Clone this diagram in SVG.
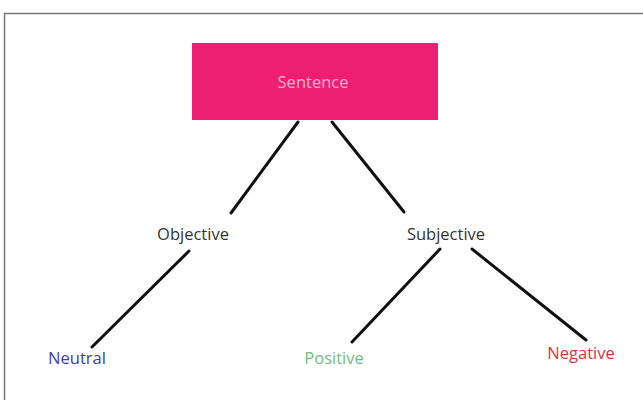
<svg xmlns="http://www.w3.org/2000/svg" width="643" height="400" viewBox="0 0 643 400">
<style>
.lbl{font-family:"Open Sans","Liberation Sans",sans-serif;font-size:16.5px;text-anchor:middle}
.edge{stroke:#111;stroke-width:3;stroke-linecap:round;fill:none}
</style>
<rect x="0" y="0" width="643" height="400" fill="#fff"/>
<rect x="4.5" y="13.5" width="640" height="400" fill="none" stroke="#777" stroke-width="1.5"/>
<g id="connectors">
<line class="edge" x1="298" y1="122" x2="231" y2="213"/>
<line class="edge" x1="332" y1="122" x2="404" y2="212"/>
<line class="edge" x1="189" y1="251" x2="92" y2="347"/>
<line class="edge" x1="440" y1="249" x2="352" y2="342"/>
<line class="edge" x1="472" y1="249" x2="586" y2="340"/>
</g>
<g id="sentence">
<rect x="192" y="43" width="246" height="77" fill="#ee1f73"/>
<text class="lbl" x="313" y="88" fill="#f9b0d0">Sentence</text>
</g>
<g id="objective"><text class="lbl" x="193" y="240" fill="#333">Objective</text></g>
<g id="subjective"><text class="lbl" x="446" y="240" fill="#333">Subjective</text></g>
<g id="neutral"><text class="lbl" x="77" y="364" fill="#3a3ab8">Neutral</text></g>
<g id="positive"><text class="lbl" x="334" y="364" fill="#72bd80">Positive</text></g>
<g id="negative"><text class="lbl" x="581" y="359" fill="#e0303f">Negative</text></g>
</svg>
